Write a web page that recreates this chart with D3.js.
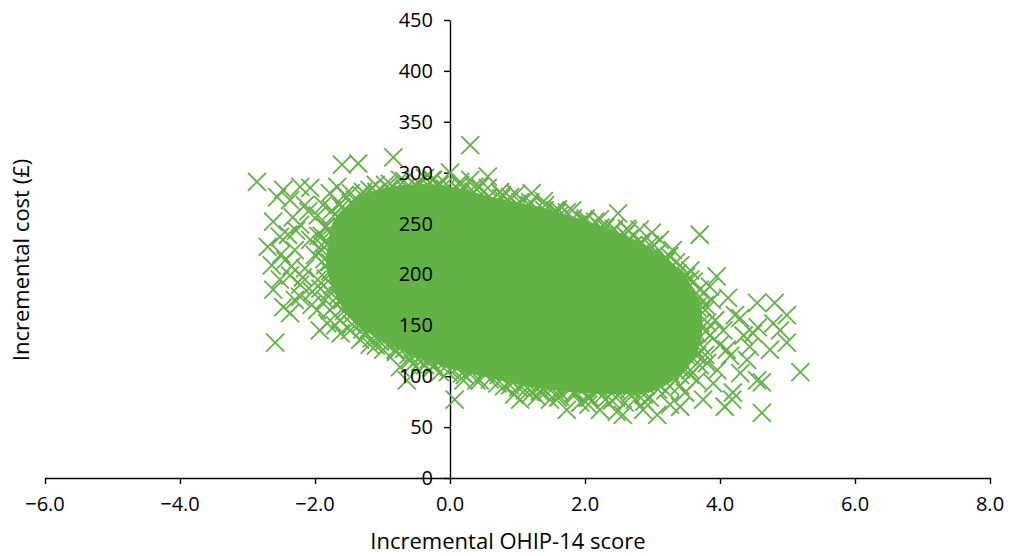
<!DOCTYPE html>
<html>
<head>
<meta charset="utf-8">
<script src="https://cdn.jsdelivr.net/npm/d3@7/dist/d3.min.js"></script>
<style>
  html, body { margin: 0; padding: 0; background: #fff; }
  svg { display: block; }
  text { font-family: "Open Sans", "Noto Sans", sans-serif; fill: #000; }
</style>
</head>
<body>
<svg id="chart" width="1011" height="556"></svg>
<script>
// Bootstrapped incremental cost vs incremental OHIP-14 score.

const xTicks = [-6, -4, -2, 0, 2, 4, 6, 8];
const yTicks = [0, 50, 100, 150, 200, 250, 300, 350, 400, 450];

// Outline of the densely packed core of the replicate cloud (effect, cost).
const coreEffect = [-1.80, -1.70, -1.48, -1.11, -0.59, 0.00, 0.59, 1.19, 1.78, 2.37, 2.89, 3.33, 3.62, 3.72,
                    3.62, 3.33, 2.96, 2.37, 1.78, 1.19, 0.59, 0.00, -0.59, -1.11, -1.48, -1.70, -1.80];
const coreCost   = [224, 253, 268, 281, 287, 285, 275, 267, 256, 243, 227, 207, 181, 150,
                    121, 99, 86, 84, 86, 91, 100, 109, 123, 140, 159, 184, 204];

// Individual replicates around the edge of the cloud.
const repEffect = [
  -2.86, -2.59, -1.60, -1.36, -0.84, -2.56, -2.47, -2.22, -2.07, -1.78, -1.67, -1.88, -2.33, -2.62, -2.52,
  -2.70, -2.64, -2.52, -2.62, -2.47, -2.37, -2.22, -1.97, -1.82, -1.93, -1.59,
  0.30, 0.00, 0.56, -0.25, 0.30, 0.44, 0.74, 1.21, 1.04, 1.73, 1.97, 2.49, 2.81, 3.11, 3.30, 3.70, 2.99,
  3.56, 3.85, 4.12, 4.55, 4.81, 4.99, 4.56, 4.30, 4.89, 4.99, 5.19, 4.62, 4.30, 4.10, 3.96, 4.44, 4.19,
  4.62, 4.18, 4.07, 3.75, 3.26, 3.07, 2.56, 2.47, 2.22, 1.93, 1.73, 1.48, 4.79, 4.49, 4.74, 4.40, 4.55,
  3.81, 3.66, 3.41, 2.86, 0.07, -0.99, -0.64, -0.74, 0.00, 0.70, 1.04, 1.29, -0.25, -0.44,
  -2.37, -2.15, -1.96, -2.22, -2.40, -2.07, -2.30, -2.00, -2.44, -2.15, -2.37, -1.96, -2.22, -2.04, -1.85,
  -2.30, -1.78, -1.63, -1.48, -1.33, -1.19, -1.41, -1.19, -0.96, -0.74, -0.52, -0.37, -0.15, -1.56, -1.85,
  -1.78, -1.90,
  0.15, 0.89, 1.41, 1.56, 2.15, 2.30, 2.59, 2.96, 3.19, 3.41, 3.56, 3.70, 3.88, 3.78, 3.93, 3.85, 4.00,
  3.78, 3.70, 3.56, 3.41, 3.19, 2.96, 2.74, 2.59, 2.30, 2.07, 1.85, 1.63, 1.33, 1.11, 0.89, 0.44, 0.22,
  -0.15, -0.37, -0.59, -0.81, -1.04, -1.26,
  // inner ring hugging the core
  -1.70, -1.76, -1.81, -1.86, -1.78, -1.74, -1.66, -1.55, -1.46, -1.32, -1.20, -1.02, -0.80, -0.68, -0.46,
  -0.31, -0.06, 0.13, 0.33, 0.51, 0.72, 0.91, 1.12, 1.34, 1.55, 1.79, 2.01, 2.21, 2.45, 2.66, 2.90, 3.07,
  3.27, 3.42, 3.52, 3.62, 3.66, 3.71, 3.66, 3.61, 3.49, 3.37, 3.20, 3.05, 2.83, 2.65, 2.42, 2.23, 2.00,
  1.82, 1.59, 1.40, 1.18, 0.99, 0.76, 0.57, 0.35, 0.16, -0.07, -0.26, -0.48, -0.67, -0.90, -1.09, -1.31,
  -1.47, -1.61,
  // outer ring
  -1.90, -1.85, -1.84, -1.78, -1.69, -1.57, -1.45, -1.30, -1.16, -0.98, -0.80, -0.62, -0.44, -0.24, -0.03,
  0.18, 0.39, 0.59, 0.80, 1.01, 1.21, 1.42, 1.63, 1.84, 2.04, 2.25, 2.46, 2.67, 2.87, 3.08, 3.26, 3.41,
  3.56, 3.66, 3.75, 3.79, 3.81, 3.78, 3.70, 3.61, 3.50, 3.35, 3.19, 3.02, 2.83, 2.64, 2.43, 2.22, 2.01,
  1.81, 1.60, 1.39, 1.19, 0.98, 0.77, 0.56, 0.36, 0.15, -0.06, -0.27, -0.47, -0.68, -0.89, -1.10, -1.29,
  -1.47, -1.63, -1.75, -1.84, -1.90,
  // extra scatter in the fringe
  -2.10, -2.28, -1.95, -2.50, -2.18, -1.92, -2.05, -2.35, -1.70, -1.62, 1.62, 1.88, 2.62, 2.70, 3.02,
  3.25, 3.95, 4.05, 4.22, 4.35, 4.15, 3.90, 3.48, 2.40, 1.60, 0.95, 0.20, -0.55, -1.10, 2.05, 2.88
];
const repCost = [
  291, 133, 308, 309, 315, 276, 283, 286, 285, 280, 286, 268, 256, 252, 237,
  227, 209, 195, 185, 168, 162, 178, 165, 152, 145, 175,
  327, 300, 296, 293, 293, 286, 281, 280, 271, 261, 253, 260, 244, 234, 224, 239, 241,
  204, 188, 177, 172, 172, 160, 148, 157, 145, 133, 104, 94, 103, 126, 106, 129, 84,
  64, 77, 70, 77, 72, 62, 62, 65, 67, 74, 67, 77, 152, 142, 126, 116, 96,
  113, 96, 70, 67, 77, 126, 96, 109, 106, 93, 77, 80, 109, 119,
  273, 268, 258, 249, 239, 234, 224, 219, 214, 206, 199, 195, 190, 183, 175,
  175, 165, 155, 145, 136, 131, 273, 283, 288, 293, 288, 295, 288, 278, 246,
  212, 229,
  288, 276, 268, 263, 252, 246, 239, 229, 216, 209, 195, 185, 175, 165, 155, 140, 131,
  121, 111, 101, 91, 86, 79, 77, 74, 77, 79, 82, 84, 85, 86, 91, 96, 101,
  104, 111, 116, 126, 134, 140,
  // inner ring hugging the core
  259, 243, 230, 215, 203, 189, 179, 169, 160, 152, 146, 139, 135, 127, 124,
  117, 115, 110, 107, 103, 101, 95, 95, 90, 90, 88, 89, 86, 87, 87, 91, 93,
  102, 107, 119, 127, 142, 152, 168, 179, 193, 201, 213, 220, 230, 235, 243, 246, 253,
  255, 261, 263, 268, 269, 275, 276, 281, 281, 284, 283, 286, 284, 284, 281, 278,
  270, 266,
  // outer ring
  224, 209, 196, 183, 171, 164, 151, 146, 137, 134, 124, 121, 114, 111, 104,
  103, 96, 97, 90, 89, 84, 85, 80, 84, 79, 81, 79, 83, 82, 87, 90, 101,
  106, 120, 128, 144, 153, 170, 178, 193, 198, 212, 217, 229, 232, 243, 245, 254, 255,
  263, 264, 272, 271, 279, 278, 285, 286, 291, 289, 293, 290, 292, 289, 288, 281,
  280, 269, 263, 247, 238,
  // extra scatter in the fringe
  262, 243, 238, 220, 197, 186, 170, 208, 150, 142, 258, 249, 245, 228, 210,
  218, 198, 145, 160, 140, 120, 93, 84, 76, 79, 82, 96, 112, 130, 72, 75
];

const green = "#63b246";
const svg = d3.select("#chart");

const x = d3.scaleLinear().domain([-6, 8]).range([45, 990]);
const y = d3.scaleLinear().domain([0, 450]).range([478, 20]);

// Axis lines and tick marks (drawn beneath the cloud)
const xAxis = svg.append("g")
  .attr("transform", `translate(0,${y(0)})`)
  .call(d3.axisBottom(x).tickValues(xTicks).tickSize(6).tickSizeOuter(0).tickFormat(""));
const yAxis = svg.append("g")
  .attr("transform", `translate(${x(0)},0)`)
  .call(d3.axisLeft(y).tickValues(yTicks).tickSize(6).tickSizeOuter(0).tickFormat(""));
[xAxis, yAxis].forEach(g => {
  g.select(".domain").attr("stroke", "#000").attr("stroke-width", 1.4);
  g.selectAll(".tick line").attr("stroke", "#000").attr("stroke-width", 1.4);
});

// Dense core
const core = coreEffect.map((e, i) => [e, coreCost[i]]);
svg.append("path")
  .datum(core)
  .attr("d", d3.line().x(d => x(d[0])).y(d => y(d[1])).curve(d3.curveCatmullRomClosed))
  .attr("fill", green)
  .attr("stroke", green)
  .attr("stroke-width", 3)
  .attr("stroke-linejoin", "round");

// Replicates as crosses
const reps = repEffect.map((e, i) => ({ e, c: repCost[i] }));
const h = 9;
svg.append("g")
  .selectAll("path")
  .data(reps)
  .join("path")
  .attr("transform", d => `translate(${x(d.e)},${y(d.c)})`)
  .attr("d", `M${-h},${-h}L${h},${h}M${-h},${h}L${h},${-h}`)
  .attr("fill", "none")
  .attr("stroke", green)
  .attr("stroke-width", 1.8);

// Tick labels on top of the cloud
const fmt = d3.format(".1f");
svg.append("g")
  .selectAll("text")
  .data(xTicks)
  .join("text")
  .attr("x", d => x(d))
  .attr("y", y(0) + 33)
  .attr("text-anchor", "middle")
  .attr("font-size", 20)
  .text(d => fmt(d).replace("-", "\u2013"));

svg.append("g")
  .selectAll("text")
  .data(yTicks)
  .join("text")
  .attr("x", x(0) - 17)
  .attr("y", d => y(d))
  .attr("dy", "0.35em")
  .attr("text-anchor", "end")
  .attr("font-size", 20)
  .text(d => d);

// Axis titles
svg.append("text")
  .attr("x", x(0) + 58)
  .attr("y", 549)
  .attr("text-anchor", "middle")
  .attr("font-size", 22)
  .text("Incremental OHIP-14 score");

svg.append("text")
  .attr("transform", `translate(29,260) rotate(-90)`)
  .attr("text-anchor", "middle")
  .attr("font-size", 22)
  .text("Incremental cost (£)");
</script>
</body>
</html>
